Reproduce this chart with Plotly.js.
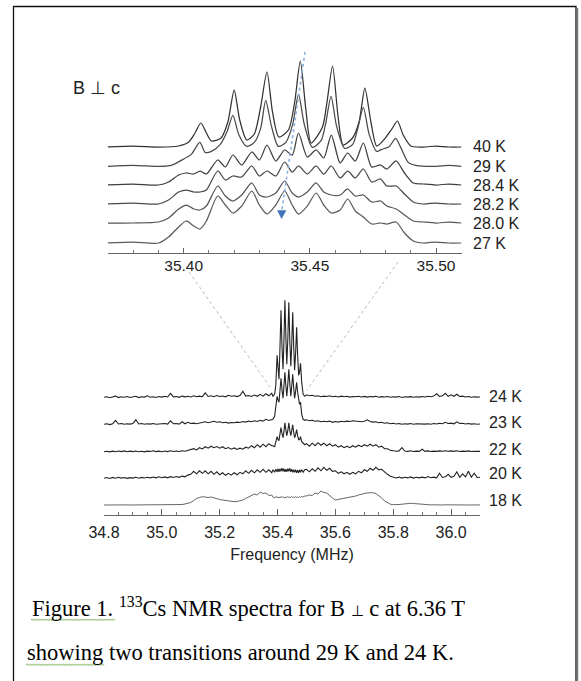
<!DOCTYPE html>
<html><head><meta charset="utf-8">
<script src="https://cdn.plot.ly/plotly-3.0.1.min.js"></script>
<style>html,body{margin:0;padding:0;background:#fff}#chart{width:581px;height:681px}</style>
</head><body><div id="chart"></div>
<script>
// ---------- Inset (zoomed) spectra: frequency (MHz) and intensity ----------
const insetLabels = ["40 K","29 K","28.4 K","28.2 K","28.0 K","27 K"];
const f40 = [35.370,35.380,35.390,35.398,35.402,35.4045,35.4068,35.409,35.411,35.4148,35.4175,35.4200,35.4222,35.425,35.428,35.4305,35.4330,35.4352,35.4377,35.4415,35.4440,35.4462,35.4484,35.4505,35.455,35.4568,35.4590,35.4612,35.4632,35.4669,35.4695,35.4718,35.4742,35.4765,35.4796,35.4825,35.4847,35.4870,35.490,35.495,35.500,35.505,35.510];
const i40 = [0,1,0,1,5,14,24,14,6,9,25,57,27,7,13,40,75,35,10,17,45,86,38,4,20,45,81,30,2,9,25,59,25,1,8,18,26,12,1,0,1,0,0];
const f29 = [35.370,35.380,35.390,35.395,35.399,35.403,35.4064,35.4085,35.411,35.4145,35.4172,35.4195,35.4218,35.425,35.428,35.4305,35.4325,35.4348,35.4375,35.4405,35.4432,35.4455,35.4478,35.451,35.4545,35.4562,35.4584,35.4606,35.4638,35.467,35.4690,35.4712,35.4735,35.4765,35.4785,35.4815,35.4840,35.4862,35.489,35.492,35.500,35.505,35.510];
const i29 = [0,1,0,1,6,12,24,14,15,22,35,51,32,20,24,38,66,40,20,24,42,72,42,19,26,42,70,40,18,22,38,59,32,15,17,20,28,18,4,1,0,1,0];
const fLow = [35.370,35.380,35.390,35.394,35.398,35.401,35.404,35.4065,35.409,35.4135,35.4165,35.4195,35.423,35.427,35.430,35.433,35.4365,35.440,35.443,35.4455,35.449,35.4525,35.4555,35.4585,35.462,35.465,35.468,35.4712,35.4745,35.478,35.4805,35.4842,35.4875,35.491,35.495,35.500,35.505,35.510];
const i284 = [0,1,0,3,10,12,11,14,11,25,18,30,20,33,25,40,24,35,30,52,28,35,27,50,22,32,24,42,18,20,16,24,12,2,1,0,1,0];
const i282 = [0,1,0,4,12,14,12,12,14,33,24,28,27,38,28,33,28,42,32,38,30,38,30,38,26,33,26,35,22,25,18,18,10,2,0,1,0,0];
const i280 = [0,0,1,5,14,18,14,13,17,37,27,22,28,40,28,26,30,42,30,26,31,40,31,28,28,34,27,28,21,22,17,14,8,2,1,0,1,0];
const i27  = [0,1,0,6,16,22,17,14,22,47,38,30,37,52,38,29,38,52,38,29,37,50,38,30,33,44,32,26,19,20,19,21,10,2,0,1,0,0];
const insetTicks = [35.40,35.45,35.50];

// ---------- Full-range spectra ----------
const bottomLabels = ["24 K","23 K","22 K","20 K","18 K"];
const freqLeft = [34.80,34.81,34.82,34.83,34.84,34.85,34.86,34.87,34.88,34.89,34.90,34.91,34.92,34.93,34.94,34.95,34.96,34.97,34.98,34.99,35.00,35.01,35.02,35.03,35.04,35.05,35.06,35.07,35.08,35.09,35.10,35.11,35.12,35.13,35.14,35.15,35.16,35.17,35.18,35.19,35.20,35.21,35.22,35.23,35.24,35.25,35.26,35.27,35.28,35.29,35.30,35.31,35.32,35.33,35.34,35.35,35.36,35.37,35.38];
const freqComb = [35.384,35.390,35.394,35.3985,35.402,35.405,35.408,35.412,35.4155,35.419,35.422,35.4255,35.429,35.432,35.4355,35.439,35.4425,35.446,35.449,35.4525,35.456,35.459,35.4625,35.466,35.4695,35.473,35.476,35.4795,35.4835,35.4885,35.494];
const freqRight = [35.50,35.51,35.52,35.53,35.54,35.55,35.56,35.57,35.58,35.59,35.60,35.61,35.62,35.63,35.64,35.65,35.66,35.67,35.68,35.69,35.70,35.71,35.72,35.73,35.74,35.75,35.76,35.77,35.78,35.79,35.80,35.81,35.82,35.83,35.84,35.85,35.86,35.87,35.88,35.89,35.90,35.91,35.92,35.93,35.94,35.95,35.96,35.97,35.98,35.99,36.00,36.01,36.02,36.03,36.04,36.05,36.06,36.07,36.08,36.09,36.10];

const s24 = [0,0.6,-0.4,0.3,1.2,-0.3,0.5,0,0.8,-0.2, 0.4,1.0,-0.3,0.6,0.2,1.5,0,0.5,-0.2,0.8, 0.2,1.0,0.3,4.0,0.5,0.8,0,1.2,0.4,1.0, 0.3,1.5,0.5,1.2,0.6,4.5,0.8,1.5,0.6,1.8, 0.8,1.3,0.5,2.0,1.0,1.6,0.7,1.8,6.0,1.2, 1.8,0.8,2.2,1.0,3.0,1.2,3.5,1.5,4.0,
  1,3,12,42,25,18,45,87,50,28,55,97,58,33,58,95,56,31,52,85,50,27,44,70,42,22,25,34,15,3,1,
  2.5,1.5,2.0,1.0,1.5,0.5,1.2,0.8,1.5,0.5, 1.0,0.3,1.2,0.5,1.0,0.2,0.8,0.5,1.0,0.3, 0.9,0.2,0.8,0.4,1.0,0,0.7,0.3,0.8,0, 0.6,0.2,0.8,-0.2,0.5,0.2,0.7,0,0.5,0.2, 0.8,0.3,1.0,0.5,1.2,3.5,0.8,1.5,4.0,1.0, 2.5,1.0,3.0,0.8,1.2,0.3,0.8,0,0.5,0.2,0.3];
const s23 = [0,0.5,-0.3,0.6,4.0,0.3,0.8,0,0.6,0.2, 0.8,4.5,0.3,0.8,0,0.5,0.2,0.8,0,0.5, 0.3,0.8,0.2,3.5,0.5,0.8,0.2,2.5,0.5,2.0, 0.8,1.2,0.5,1.0,1.8,2.5,1.5,2.2,3.0,2.0, 2.5,1.5,2.0,1.2,1.8,1.5,2.2,1.8,2.8,2.2, 3.2,2.5,3.5,2.8,4.0,3.2,5.0,3.8,4.5,
  5,8,18,28,24,22,32,46,34,26,38,52,38,28,40,55,40,28,38,50,36,26,33,42,32,24,20,22,10,5,4,
  4.5,3.5,4.0,3.0,3.5,2.5,3.0,2.5,3.2,2.0, 2.8,2.2,3.0,2.5,3.2,2.8,3.5,3.0,3.2,2.5, 3.0,4.5,2.8,2.2,2.5,1.5,2.0,1.0,1.5,0.5, 1.0,0.3,0.8,0,0.5,0.2,0.8,0,0.5,0.3, 0.8,0.2,0.5,0,0.8,0.3,1.0,0.5,2.0,0.8, 1.2,0.5,2.5,0.8,1.0,0.3,0.8,0.2,0.5,0,0.3];
const s22 = [0,0.5,-0.2,0.6,0,0.7,0.1,0.8,0,0.6, 0.1,0.7,0,0.5,-0.2,0.6,0.2,0.9,0.1,0.6, 0,0.7,0.1,0.9,0.2,0.7,0.2,0.9,0.4,1.2, 1.5,3.0,1.8,4.0,2.8,5.0,3.5,5.5,4.0,5.2, 3.5,5.0,3.0,4.2,2.5,3.8,2.2,3.5,2.5,4.5, 3.5,6.0,4.0,7.0,4.5,7.5,5.0,8.0,6.0,
  6,5,9,15,12,11,17,24,18,14,20,29,21,16,21,29,21,16,21,27,19,14,17,22,16,12,12,15,10,8,7,
  8.0,5.5,8.5,6.0,9.0,6.5,8.5,6.0,8.0,5.5, 7.0,4.5,6.0,4.0,5.5,4.0,6.0,4.5,6.5,5.0, 7.0,5.5,7.5,5.5,7.0,4.5,5.5,3.0,3.0,1.5, 1.0,0.5,0.8,4.0,0.6,0.3,1.0,0.2,0.6,0.3, 2.5,0.3,0.8,0.2,0.6,0.3,0.8,0.4,1.0,0.5, 0.8,0.3,1.0,0.2,0.6,0.3,0.8,0.2,0.5,0.2,0.3];
const s20 = [0,0.8,-0.2,0.9,0.1,1.0,0.2,0.8,-0.1,0.7, 0.2,1.0,0.1,0.9,0.3,1.1,0.4,1.3,0.5,1.5, 0.6,1.4,0.5,1.6,0.8,1.8,1.0,2.2,1.5,3.2, 4.0,7.0,4.5,7.5,5.0,7.5,4.5,7.0,4.0,6.5, 3.5,5.5,3.0,5.0,3.2,5.5,3.5,6.0,4.5,7.5, 5.0,8.0,5.5,8.5,6.0,9.0,6.0,8.5,5.5,
  8.5,6.0,9.0,6.5,9.5,6.5,9.5,7.0,10.0,7.0,9.5,6.5,9.0,6.5,9.5,7.0,10.0,6.5,9.0,6.0,8.5,6.0,8.5,5.5,8.0,5.5,8.5,6.0,8.5,6.0,8.5,
  9.0,6.5,9.5,7.0,10.5,7.5,11.0,8.0,10.0,7.0, 7.5,5.0,6.5,4.5,6.0,4.0,6.0,4.5,7.0,5.5, 8.5,7.0,10.0,8.0,11.0,8.5,9.0,6.0,4.0,2.0, 1.2,0.3,1.2,0.2,1.0,0.4,1.4,0.2,1.0,0.4, 1.2,0.4,1.8,0.6,1.2,0.4,5.0,0.8,1.5,4.0, 1.0,2.0,6.5,1.0,4.5,1.5,7.0,1.0,5.0,0.8,1.0];
const s18 = [0,0.1,0,0.1,0,0.1,0,0,0.1,0, 0,0.1,0,0,0.1,0,0,0.1,0,0, 0,0.1,0,0.1,0,0.2,0.3,0.5,1.0,1.5, 2.5,4.5,6.5,7.5,8.3,8.0,7.5,8.0,7.0,6.0, 5.5,5.0,4.5,4.0,3.8,3.3,3.5,4.0,5.0,6.5, 8.0,9.5,11.0,10.0,13.0,11.5,12.0,9.5,10.0,
  8.0,7.0,8.5,7.5,8.0,7.0,8.0,7.5,8.5,7.5,8.0,7.0,8.0,7.5,8.5,7.5,8.0,7.5,8.5,7.5,8.0,7.5,8.5,7.5,8.0,7.5,8.5,7.5,8.5,8.0,9.0,
  9.0,10.0,9.5,12.0,11.0,14.0,12.5,12.0,9.0,7.0, 5.0,5.5,6.0,6.5,7.0,7.5,8.0,9.0,10.0,11.0, 11.5,12.0,12.5,12.3,11.5,9.5,7.0,4.0,2.0,0.8, 0.3,0.2,0.5,0.8,1.2,1.5,1.7,1.5,1.2,0.8, 0.5,0.3,0.2,0.1,0.2,0,0.1,0,0.2,0.1, 0.1,0,0.2,0.1,0,0.1,0,0.1,0,0.1,0];
const bottomTicks = [34.8,35.0,35.2,35.4,35.6,35.8,36.0];

// ---------- drawing ----------
const W = 581, H = 681;
const FONT = "Liberation Sans, Arial, sans-serif";
const SERIF = "Liberation Serif, Times New Roman, serif";
const insetOffsets = [106, 86.6, 68, 49, 30, 10];
const bottomOffsets = [117.7, 90.7, 63.3, 36.7, 10];
const insetSeries = [[f40,i40],[f29,i29],[fLow,i284],[fLow,i282],[fLow,i280],[fLow,i27]];
const insetColors = ["#333","#4a4a4a","#3d3d3d","#4a4a4a","#555","#5a5a5a"];
const fullFreq = freqLeft.concat(freqComb, freqRight);
const bottomSeries = [s24,s23,s22,s20,s18];

const traces = [];
insetSeries.forEach((s,k)=>{
  traces.push({x:s[0], y:s[1].map(v=>v+insetOffsets[k]), xaxis:'x', yaxis:'y', mode:'lines',
    line:{color:insetColors[k], width:1.25, shape:'spline', smoothing:0.7}, hoverinfo:'skip', showlegend:false});
});
bottomSeries.forEach((s,k)=>{
  traces.push({x:fullFreq, y:s.map(v=>v+bottomOffsets[k]), xaxis:'x2', yaxis:'y2', mode:'lines',
    line:{color: k===4 ? "#555" : "#222", width: k===4 ? 0.9 : 1.1}, hoverinfo:'skip', showlegend:false});
});
traces.push({x:[0], y:[0], xaxis:'x3', yaxis:'y3', mode:'markers', marker:{opacity:0}, hoverinfo:'skip', showlegend:false});

const annotations = [];
const insetLabelY = [146.5,166,185,204,223.5,243.5];
insetLabels.forEach((t,k)=>annotations.push({xref:'x3',yref:'y3',x:471,y:insetLabelY[k],text:t,showarrow:false,xanchor:'left',yanchor:'middle',font:{family:FONT,size:16,color:'#222'}}));
const bottomLabelY = [396.5,422.5,449.5,473.5,500.5];
bottomLabels.forEach((t,k)=>annotations.push({xref:'x3',yref:'y3',x:487,y:bottomLabelY[k],text:t,showarrow:false,xanchor:'left',yanchor:'middle',font:{family:FONT,size:16,color:'#222'}}));
annotations.push({xref:'x3',yref:'y3',x:71,y:88,text:'B ⊥ c',showarrow:false,xanchor:'left',yanchor:'middle',font:{family:FONT,size:18,color:'#222'}});
annotations.push({xref:'x3',yref:'y3',x:30,y:607,text:'Figure 1. <sup>133</sup>Cs NMR spectra for B <span style="font-size:15px">⊥</span> c at 6.36 T',showarrow:false,xanchor:'left',yanchor:'middle',font:{family:SERIF,size:22.5,color:'#000'}});
annotations.push({xref:'x3',yref:'y3',x:25,y:652,text:'showing two transitions around 29 K and 24 K.',showarrow:false,xanchor:'left',yanchor:'middle',font:{family:SERIF,size:22.5,color:'#000'}});

function squiggle(x0,x1,y){
  let p = `M${x0},${y}`; let up = true;
  for(let x=x0+1.5; x<=x1; x+=1.5){ p += ` L${x},${up? y-1.1 : y+0.6}`; up=!up; }
  return {type:'path', xref:'x3', yref:'y3', path:p, line:{color:'#7cb05a', width:1}};
}
const shapes = [
  {type:'rect', xref:'x3', yref:'y3', x0:13.5, x1:576, y0:6.5, y1:700, line:{color:'#111', width:1.3}},
  {type:'line', xref:'x3', yref:'y3', x0:577.5, x1:577.5, y0:8, y1:700, line:{color:'#777', width:1.5}},
  {type:'line', xref:'x3', yref:'y3', x0:189, y0:272, x1:270, y1:387, line:{color:'#999', width:0.7, dash:'dot'}},
  {type:'line', xref:'x3', yref:'y3', x0:398, y0:262, x1:307, y1:390, line:{color:'#999', width:0.7, dash:'dot'}},
  {type:'line', xref:'x3', yref:'y3', x0:305, y0:52, x1:281.8, y1:211, line:{color:'#8ab0e0', width:1.6, dash:'dot'}},
  {type:'path', xref:'x3', yref:'y3', path:'M277.5,210.5 L286,210.5 L281.5,218.5 Z', fillcolor:'#3f74b8', line:{color:'#3f74b8', width:0.5}},
  squiggle(31,116,620), squiggle(26,104,665)
];

const axisCommon = {showgrid:false, zeroline:false, showline:true, linecolor:'#666', linewidth:1, ticks:'inside', tickcolor:'#666', fixedrange:true};
const layout = {
  width:W, height:H, margin:{l:0,r:0,t:0,b:0}, paper_bgcolor:'#fff', plot_bgcolor:'rgba(0,0,0,0)',
  xaxis: Object.assign({}, axisCommon, {domain:[108/W, 462/W], range:[35.37,35.5103], anchor:'y',
    tickvals:insetTicks, ticktext:insetTicks.map(v=>v.toFixed(2)), ticklen:5, ticklabelstandoff:-2, tickfont:{family:FONT,size:15.5,color:'#222'},
    minor:{dtick:0.01, tick0:35.37, ticks:'inside', ticklen:3, tickcolor:'#777'}}),
  yaxis: {domain:[1-253/H, 1-40/H], range:[0,213], visible:false, fixedrange:true, anchor:'x'},
  xaxis2: Object.assign({}, axisCommon, {domain:[104/W, 480/W], range:[34.8,36.1], anchor:'y2',
    tickvals:bottomTicks, ticktext:bottomTicks.map(v=>v.toFixed(1)), ticklen:6, ticklabelstandoff:3, tickfont:{family:FONT,size:16,color:'#222'},
    minor:{dtick:0.05, tick0:34.8, ticks:'inside', ticklen:3, tickcolor:'#777'},
    title:{text:'Frequency (MHz)', font:{family:FONT,size:16,color:'#222'}, standoff:8}}),
  yaxis2: {domain:[1-515/H, 1-290/H], range:[0,225], visible:false, fixedrange:true, anchor:'x2'},
  xaxis3: {domain:[0,1], range:[0,W], visible:false, fixedrange:true, anchor:'y3'},
  yaxis3: {domain:[0,1], range:[H,0], visible:false, fixedrange:true, anchor:'x3'},
  annotations, shapes
};
Plotly.newPlot('chart', traces, layout, {staticPlot:true, displayModeBar:false});
</script></body></html>
